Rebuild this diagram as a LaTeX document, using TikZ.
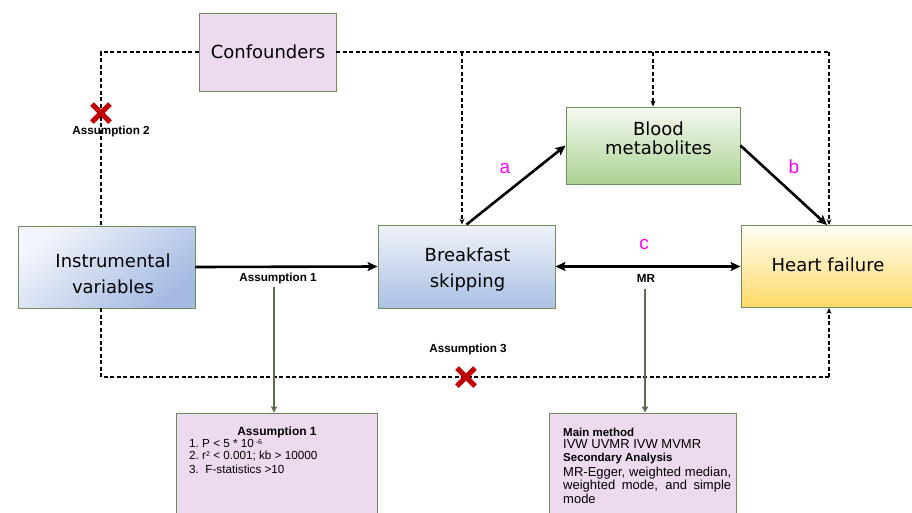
\documentclass[tikz,border=0pt]{standalone}
\usepackage{fontspec}
\setmainfont{Liberation Sans}
\newfontfamily\boxfont{DejaVu Sans}
\usetikzlibrary{arrows.meta,calc}
\definecolor{edgegreen}{HTML}{6E8F5A}
\definecolor{pinkfill}{HTML}{EEDAEE}
\definecolor{linkgray}{HTML}{5B6B4E}
\definecolor{crossred}{HTML}{C00000}
\definecolor{lettermag}{HTML}{FF00FF}
\tikzset{
  box/.style={draw=edgegreen, line width=0.9pt, inner sep=0pt},
  boxtext/.style={inner sep=0pt, align=center, font=\boxfont\fontsize{18}{20}\selectfont},
  dashline/.style={dashed, dash pattern=on 4pt off 2.5pt, line width=1.1pt, black},
  dasharrow/.style={dashline, -{Stealth[length=6pt,width=5pt]}},
  bold arrow/.style={line width=2.6pt, -{Stealth[length=10pt,width=9pt,inset=2pt]}},
  thin arrow/.style={draw=linkgray, line width=1.2pt, -{Triangle[length=6pt,width=6pt]}, linkgray},
  smalllabel/.style={font=\bfseries\fontsize{11.7}{13}\selectfont, inner sep=1pt},
  letter/.style={text=lettermag, font=\fontsize{19}{21}\selectfont},
  crossmark/.style={draw=crossred, line width=5pt},
  infotext/.style={font=\fontsize{11.7}{13}\selectfont, align=left, inner sep=0pt, anchor=north west}
}
\begin{document}
\begin{tikzpicture}[x=1pt,y=-1pt]
\useasboundingbox (0,0) rectangle (912,512);
% boxes
\node[box, fill=pinkfill, minimum width=137pt, minimum height=78pt] (conf) at (267.5,52) {};
\node[box, top color={rgb,255:red,242;green,245;blue,251}, bottom color={rgb,255:red,165;green,186;blue,226}, shading angle=40, minimum width=177pt, minimum height=82pt] (iv) at (106.5,267) {};
\node[box, top color={rgb,255:red,240;green,243;blue,250}, bottom color={rgb,255:red,170;green,192;blue,228}, minimum width=177pt, minimum height=83pt] (bs) at (466.5,266.5) {};
\node[box, top color={rgb,255:red,246;green,250;blue,243}, bottom color={rgb,255:red,170;green,210;blue,145}, minimum width=174pt, minimum height=77pt] (bm) at (653,145.5) {};
\node[box, top color={rgb,255:red,255;green,254;blue,245}, bottom color={rgb,255:red,255;green,217;blue,102}, minimum width=172pt, minimum height=82pt] (hf) at (827,266.5) {};
\node[box, fill=pinkfill, minimum width=201pt, minimum height=107pt] (a1) at (276.5,466.5) {};
\node[box, fill=pinkfill, minimum width=187pt, minimum height=107pt] (mm) at (642.5,466.5) {};

% box texts
\node[boxtext] (conftext) at ($(conf.center)+(0.5,0)$) {Confounders};
\node[boxtext] (ivtext) at ($(iv.center)+(6.5,7)$) {Instrumental\\[6pt]variables};
\node[boxtext] (bstext) at ($(bs.center)+(1,3.5)$) {Breakfast\\[6pt]skipping};
\node[boxtext] (bmtext) at ($(bm.center)+(5.5,-7)$) {Blood\\[-1pt]metabolites};
\node[boxtext] (hftext) at ($(hf.center)+(1,-1.5)$) {Heart failure};

% coordinates
\coordinate (ivtop) at (101,226);
\coordinate (ivbot) at (101,308);
\coordinate (rightcorner) at (829,52);
\coordinate (bottomcorner) at (829,377);
\coordinate (bsbranch) at (462,52);
\coordinate (bmbranch) at (653,52);
\coordinate (a1src) at (274,287);
\coordinate (mrsrc) at (645,289);
\coordinate (crossA) at (101,113);
\coordinate (crossB) at (466,377);

% dashed confounder lines
\draw[dashline] (conf.west) -| (ivtop);
\draw[dashline] (conf.east) -- (rightcorner);
\draw[dasharrow] (rightcorner) -- (hf.north -| rightcorner);
\draw[dasharrow] (bsbranch) -- (bs.north -| bsbranch);
\draw[dasharrow] (bmbranch) -- (bm.north);
\draw[dashline] (ivbot) |- (bottomcorner);
\draw[dasharrow] (bottomcorner) -- (hf.south -| bottomcorner);

% solid arrows
\draw[bold arrow] (iv.east) -- (bs.west);
\draw[line width=2.6pt, {Stealth[length=10pt,width=9pt,inset=2pt]}-{Stealth[length=10pt,width=9pt,inset=2pt]}] (bs.east) -- (hf.west);
\draw[bold arrow] (bs.north) -- (bm.west);
\draw[bold arrow] (bm.east) -- (hf.north);

% thin arrows
\draw[thin arrow] (a1src) -- (a1.north -| a1src);
\draw[thin arrow] (mrsrc) -- (mm.north -| mrsrc);

% crosses
\draw[crossmark] ($(crossA)+(-9,-9)$) -- ($(crossA)+(9,9)$);
\draw[crossmark] ($(crossA)+(-9,9)$) -- ($(crossA)+(9,-9)$);
\draw[crossmark] ($(crossB)+(-9,-9)$) -- ($(crossB)+(9,9)$);
\draw[crossmark] ($(crossB)+(-9,9)$) -- ($(crossB)+(9,-9)$);

% labels
\node[smalllabel] (lA2) at (111,131) {Assumption 2};
\node[smalllabel] (lA1) at (278,278) {Assumption 1};
\node[smalllabel] (lA3) at (468,349) {Assumption 3};
\node[smalllabel] (lMR) at (646,278) {MR};
\node[letter] (la) at (505,168) {a};
\node[letter] (lb) at (794,167) {b};
\node[letter] (lc) at (644,244) {c};

% info box texts
\node[font=\bfseries\fontsize{12}{14}\selectfont, inner sep=0pt] (a1title) at (277,432) {Assumption 1};
\node[infotext] (a1list) at (189,439.5) {1.\ P < 5 * 10\,\raisebox{0.55ex}{\fontsize{7}{8}\selectfont -6}\\[-1.5pt]2.\ r\raisebox{0.55ex}{\fontsize{7}{8}\selectfont 2} < 0.001; kb > 10000\\[1pt]3.\ \ F-statistics >10};
\node[infotext, font=\fontsize{13}{13}\selectfont] (mmtext) at (563,427.5) {{\bfseries\fontsize{11.5}{13}\selectfont Main method}\\[-0.5pt]
IVW UVMR IVW MVMR\\[-0.5pt]
{\bfseries\fontsize{11.5}{13}\selectfont Secondary Analysis}\\[2.5pt]
\makebox[168pt][s]{MR-Egger, weighted median,}\\[0.3pt]
\makebox[168pt][s]{weighted mode, and simple}\\[0.3pt]
mode};
\end{tikzpicture}
\end{document}
